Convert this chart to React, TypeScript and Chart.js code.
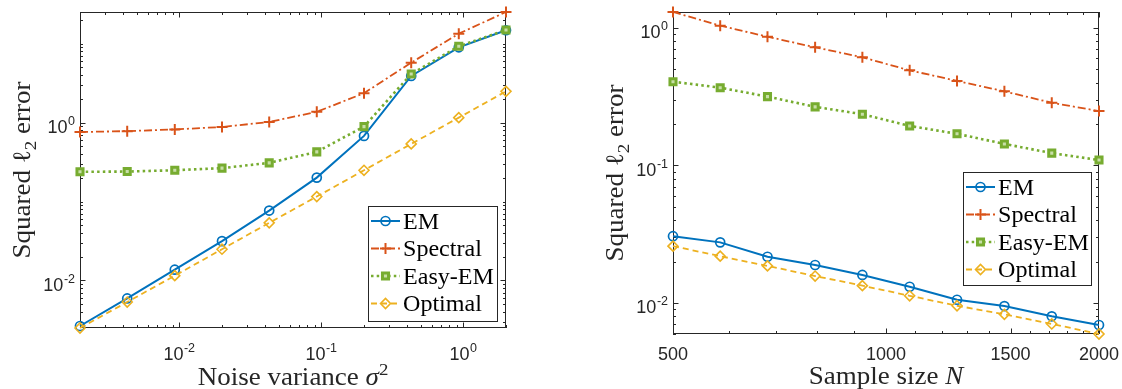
import React, { useEffect, useRef } from "react";
import { Chart, registerables } from "chart.js";
Chart.register(...registerables);

// ---------- data ----------
const seriesNames = ["EM", "Spectral", "Easy-EM", "Optimal"];

const noiseVariance = [0.002, 0.0043, 0.0093, 0.02, 0.043, 0.093, 0.2, 0.43, 0.93, 2];
const noiseEM = [0.00265, 0.00592, 0.0137, 0.0315, 0.0769, 0.201, 0.679, 3.9, 9.0, 14.8];
const noiseSpectral = [0.76, 0.78, 0.82, 0.88, 1.02, 1.37, 2.36, 5.75, 13.4, 25.2];
const noiseEasyEM = [0.238, 0.24, 0.249, 0.265, 0.309, 0.426, 0.89, 4.13, 9.27, 14.9];
const noiseOptimal = [0.0025, 0.00533, 0.0115, 0.0249, 0.0537, 0.1156, 0.249, 0.537, 1.156, 2.49];

const sampleSize = [500, 583, 680, 794, 926, 1080, 1260, 1470, 1715, 2000];
const sampleEM = [0.0306, 0.0276, 0.0217, 0.0189, 0.016, 0.01313, 0.01056, 0.0095, 0.008, 0.00692];
const sampleSpectral = [1.307, 1.04, 0.864, 0.724, 0.612, 0.492, 0.412, 0.346, 0.286, 0.249];
const sampleEasyEM = [0.407, 0.368, 0.317, 0.267, 0.236, 0.194, 0.17, 0.1435, 0.123, 0.1096];
const sampleOptimal = [0.0259, 0.0219, 0.0186, 0.0157, 0.01337, 0.01128, 0.00955, 0.00827, 0.00704, 0.00595];

const noiseXTicks = [0.01, 0.1, 1];
const noiseYTicks = [0.01, 1];
const sampleXTicks = [500, 1000, 1500, 2000];
const sampleXTickLabels = ["500", "1000", "1500", "2000"];
const sampleYTicks = [0.01, 0.1, 1];

// ---------- styles ----------
type Sty = {
  color: string; width: number; dash: number[]; point: string;
  radius: number; pointWidth: number; fill: string;
};
const styles: Sty[] = [
  { color: "#0072BD", width: 2, dash: [], point: "circle", radius: 4.5, pointWidth: 1.7, fill: "rgba(255,255,255,0)" },
  { color: "#D95319", width: 1.8, dash: [8, 3, 2, 3], point: "cross", radius: 5.5, pointWidth: 2, fill: "rgba(255,255,255,0)" },
  { color: "#77AC30", width: 2.6, dash: [2.5, 3.2], point: "rect", radius: 4.3, pointWidth: 3, fill: "#c8dfa8" },
  { color: "#EDB120", width: 1.8, dash: [6, 4], point: "rectRot", radius: 5, pointWidth: 1.6, fill: "rgba(255,255,255,0)" },
];

const AX = "#262626";
const SANS = '"Liberation Sans", Arial, sans-serif';
const SERIF = '"Liberation Serif", "Times New Roman", serif';

type Part = { t: string; it?: boolean; sub?: boolean; sup?: boolean };

function drawRich(ctx: CanvasRenderingContext2D, parts: Part[], size: number, sx: number) {
  const fontFor = (p: Part) =>
    `${p.it ? "italic " : ""}${p.sub || p.sup ? size * 0.7 : size}px ${SERIF}`;
  const widths: number[] = [];
  let total = 0;
  for (const p of parts) {
    ctx.font = fontFor(p);
    const w = ctx.measureText(p.t).width;
    widths.push(w);
    total += w;
  }
  ctx.save();
  ctx.scale(sx, 1);
  let x = -total / 2;
  parts.forEach((p, i) => {
    ctx.font = fontFor(p);
    const dy = p.sub ? size * 0.24 : p.sup ? -size * 0.4 : 0;
    ctx.fillText(p.t, x, dy);
    x += widths[i];
  });
  ctx.restore();
}

function drawPow(ctx: CanvasRenderingContext2D, x: number, y: number, exp: string, align: "center" | "right") {
  const base = `18px ${SANS}`;
  const sup = `12.5px ${SANS}`;
  ctx.font = base;
  const wb = ctx.measureText("10").width;
  ctx.font = sup;
  const ws = ctx.measureText(exp).width;
  const total = wb + ws + 0.5;
  const start = align === "center" ? x - total / 2 : x - total;
  ctx.textAlign = "left";
  ctx.font = base;
  ctx.fillText("10", start, y);
  ctx.font = sup;
  ctx.fillText(exp, start + wb + 0.5, y - 8);
}

function drawMarker(ctx: CanvasRenderingContext2D, s: Sty, x: number, y: number) {
  ctx.save();
  ctx.setLineDash([]);
  ctx.lineWidth = s.pointWidth;
  ctx.strokeStyle = s.color;
  ctx.fillStyle = s.fill;
  ctx.beginPath();
  const r = s.radius;
  if (s.point === "circle") {
    ctx.arc(x, y, r, 0, Math.PI * 2);
    ctx.fill();
    ctx.stroke();
  } else if (s.point === "cross") {
    ctx.moveTo(x - r, y); ctx.lineTo(x + r, y);
    ctx.moveTo(x, y - r); ctx.lineTo(x, y + r);
    ctx.stroke();
  } else if (s.point === "rect") {
    const h = r * Math.SQRT1_2;
    ctx.rect(x - h, y - h, 2 * h, 2 * h);
    ctx.fill();
    ctx.stroke();
  } else {
    ctx.moveTo(x - r, y); ctx.lineTo(x, y - r); ctx.lineTo(x + r, y); ctx.lineTo(x, y + r);
    ctx.closePath();
    ctx.fill();
    ctx.stroke();
  }
  ctx.restore();
}

function logMinor(min: number, max: number, majors: number[]): number[] {
  const out: number[] = [];
  for (let d = Math.floor(Math.log10(min)); d <= Math.ceil(Math.log10(max)); d++) {
    for (let k = 1; k <= 9; k++) {
      const v = k * Math.pow(10, d);
      if (v >= min * 0.999 && v <= max * 1.001 && !majors.some((m) => Math.abs(m - v) / m < 1e-6)) out.push(v);
    }
  }
  return out;
}

type PanelCfg = {
  xs: number[];
  ys: number[][];
  xMin: number; xMax: number; yMin: number; yMax: number;
  padding: { left: number; right: number; top: number; bottom: number };
  xMajor: number[]; xMinor: number[]; xLabels: (string | null)[]; xPow: boolean;
  yMajor: number[]; yMinor: number[];
  xTitle: Part[]; yTitle: Part[];
  xTitleBaseline: number; yTitleX: number;
  legend: { x: number; y: number; w: number; h: number };
};

function makePlugin(cfg: PanelCfg) {
  return {
    id: "matlabAxes",
    beforeDatasetsDraw(chart: any) {
      const ctx: CanvasRenderingContext2D = chart.ctx;
      const a = chart.chartArea;
      const xs = chart.scales.x;
      const ys = chart.scales.y;
      ctx.save();
      ctx.strokeStyle = AX;
      ctx.lineWidth = 1;
      ctx.setLineDash([]);
      ctx.strokeRect(a.left + 0.5, a.top + 0.5, a.right - a.left - 1, a.bottom - a.top - 1);
      ctx.beginPath();
      const tx = (v: number, len: number) => {
        const p = Math.round(xs.getPixelForValue(v)) + 0.5;
        ctx.moveTo(p, a.bottom); ctx.lineTo(p, a.bottom - len);
        ctx.moveTo(p, a.top); ctx.lineTo(p, a.top + len);
      };
      const ty = (v: number, len: number) => {
        const p = Math.round(ys.getPixelForValue(v)) + 0.5;
        ctx.moveTo(a.left, p); ctx.lineTo(a.left + len, p);
        ctx.moveTo(a.right, p); ctx.lineTo(a.right - len, p);
      };
      cfg.xMajor.forEach((v) => tx(v, 5.5));
      cfg.xMinor.forEach((v) => tx(v, 3));
      cfg.yMajor.forEach((v) => ty(v, 5.5));
      cfg.yMinor.forEach((v) => ty(v, 3));
      ctx.stroke();
      ctx.restore();
    },
    afterDraw(chart: any) {
      const ctx: CanvasRenderingContext2D = chart.ctx;
      const a = chart.chartArea;
      const xs = chart.scales.x;
      const ys = chart.scales.y;
      ctx.save();
      ctx.fillStyle = AX;
      ctx.textBaseline = "alphabetic";
      // x tick labels
      cfg.xMajor.forEach((v, i) => {
        const p = xs.getPixelForValue(v);
        if (cfg.xPow) {
          drawPow(ctx, p, 360, String(Math.round(Math.log10(v))), "center");
        } else {
          ctx.font = `18px ${SANS}`;
          ctx.textAlign = "center";
          ctx.fillText(cfg.xLabels[i] as string, p, 360);
        }
      });
      // y tick labels
      cfg.yMajor.forEach((v) => {
        const p = ys.getPixelForValue(v);
        drawPow(ctx, a.left - 5, p + 10.5, String(Math.round(Math.log10(v))), "right");
      });
      // titles
      ctx.textAlign = "left";
      ctx.save();
      ctx.translate((a.left + a.right) / 2, cfg.xTitleBaseline);
      drawRich(ctx, cfg.xTitle, 25, 1.08);
      ctx.restore();
      ctx.save();
      ctx.translate(cfg.yTitleX, (a.top + a.bottom) / 2);
      ctx.rotate(-Math.PI / 2);
      drawRich(ctx, cfg.yTitle, 25, 1.08);
      ctx.restore();
      // legend
      const L = cfg.legend;
      ctx.fillStyle = "#ffffff";
      ctx.fillRect(L.x, L.y, L.w, L.h);
      ctx.strokeStyle = AX;
      ctx.lineWidth = 1;
      ctx.strokeRect(L.x + 0.5, L.y + 0.5, L.w - 1, L.h - 1);
      const rows = [15, 42.5, 70, 97.5];
      seriesNames.forEach((name, i) => {
        const s = styles[i];
        const yy = L.y + rows[i];
        ctx.save();
        ctx.strokeStyle = s.color;
        ctx.lineWidth = s.width;
        ctx.setLineDash(s.dash);
        ctx.beginPath();
        ctx.moveTo(L.x + 3, yy);
        ctx.lineTo(L.x + 32, yy);
        ctx.stroke();
        ctx.restore();
        drawMarker(ctx, s, L.x + 17.5, yy);
        ctx.save();
        ctx.fillStyle = "#000000";
        ctx.font = `22.5px ${SERIF}`;
        ctx.translate(L.x + 35, yy + 7.5);
        ctx.scale(1.07, 1);
        ctx.textAlign = "left";
        ctx.fillText(name, 0, 0);
        ctx.restore();
      });
      ctx.restore();
    },
  };
}

function Panel({ cfg, left }: { cfg: PanelCfg; left: number }) {
  const ref = useRef<HTMLCanvasElement | null>(null);
  useEffect(() => {
    if (!ref.current) return;
    const order = [4, 3, 2, 1];
    const chart = new Chart(ref.current, {
      type: "line",
      data: {
        datasets: cfg.ys.map((vals, i) => ({
          label: seriesNames[i],
          data: cfg.xs.map((x, j) => ({ x, y: vals[j] })),
          borderColor: styles[i].color,
          borderWidth: styles[i].width,
          borderDash: styles[i].dash,
          pointStyle: styles[i].point as any,
          pointRadius: styles[i].radius,
          pointBorderWidth: styles[i].pointWidth,
          pointBorderColor: styles[i].color,
          pointBackgroundColor: styles[i].fill,
          fill: false,
          tension: 0,
          clip: false as any,
          order: order[i],
        })),
      },
      options: {
        responsive: false,
        animation: false,
        events: [],
        layout: { padding: cfg.padding },
        plugins: { legend: { display: false }, tooltip: { enabled: false } },
        scales: {
          x: { type: "logarithmic", min: cfg.xMin, max: cfg.xMax, display: false },
          y: { type: "logarithmic", min: cfg.yMin, max: cfg.yMax, display: false },
        },
      },
      plugins: [makePlugin(cfg) as any],
    });
    return () => chart.destroy();
  }, []);
  return (
    <canvas
      ref={ref}
      width={561}
      height={389}
      style={{ position: "absolute", left, top: 0, width: 561, height: 389, display: "block" }}
    />
  );
}

const yTitle: Part[] = [{ t: "Squared " }, { t: "ℓ" }, { t: "2", sub: true }, { t: " error" }];

const leftCfg: PanelCfg = {
  xs: noiseVariance,
  ys: [noiseEM, noiseSpectral, noiseEasyEM, noiseOptimal],
  xMin: 0.002, xMax: 2, yMin: 0.0025, yMax: 25.2,
  padding: { left: 80, right: 55, top: 12, bottom: 61 },
  xMajor: noiseXTicks, xMinor: logMinor(0.002, 2, noiseXTicks), xLabels: [], xPow: true,
  yMajor: noiseYTicks, yMinor: logMinor(0.0025, 25.2, noiseYTicks),
  xTitle: [{ t: "Noise variance " }, { t: "σ", it: true }, { t: "2", sup: true }],
  yTitle,
  xTitleBaseline: 384.5,
  yTitleX: 29.5,
  legend: { x: 368, y: 206, w: 130, h: 116 },
};

const sampleMinor: number[] = [];
for (let v = 600; v <= 1900; v += 100) if (v !== 1000 && v !== 1500) sampleMinor.push(v);

const rightCfg: PanelCfg = {
  xs: sampleSize,
  ys: [sampleEM, sampleSpectral, sampleEasyEM, sampleOptimal],
  xMin: 500, xMax: 2000, yMin: 0.00595, yMax: 1.307,
  padding: { left: 112, right: 23, top: 12, bottom: 55 },
  xMajor: sampleXTicks, xMinor: sampleMinor, xLabels: sampleXTickLabels, xPow: false,
  yMajor: sampleYTicks, yMinor: logMinor(0.00595, 1.307, sampleYTicks),
  xTitle: [{ t: "Sample size " }, { t: "N", it: true }],
  yTitle,
  xTitleBaseline: 383.5,
  yTitleX: 62,
  legend: { x: 402, y: 172, w: 129, h: 114 },
};

export default function App() {
  return (
    <div style={{ position: "absolute", left: 0, top: 0, width: 1122, height: 389, background: "#ffffff" }}>
      <Panel cfg={leftCfg} left={0} />
      <Panel cfg={rightCfg} left={561} />
    </div>
  );
}
